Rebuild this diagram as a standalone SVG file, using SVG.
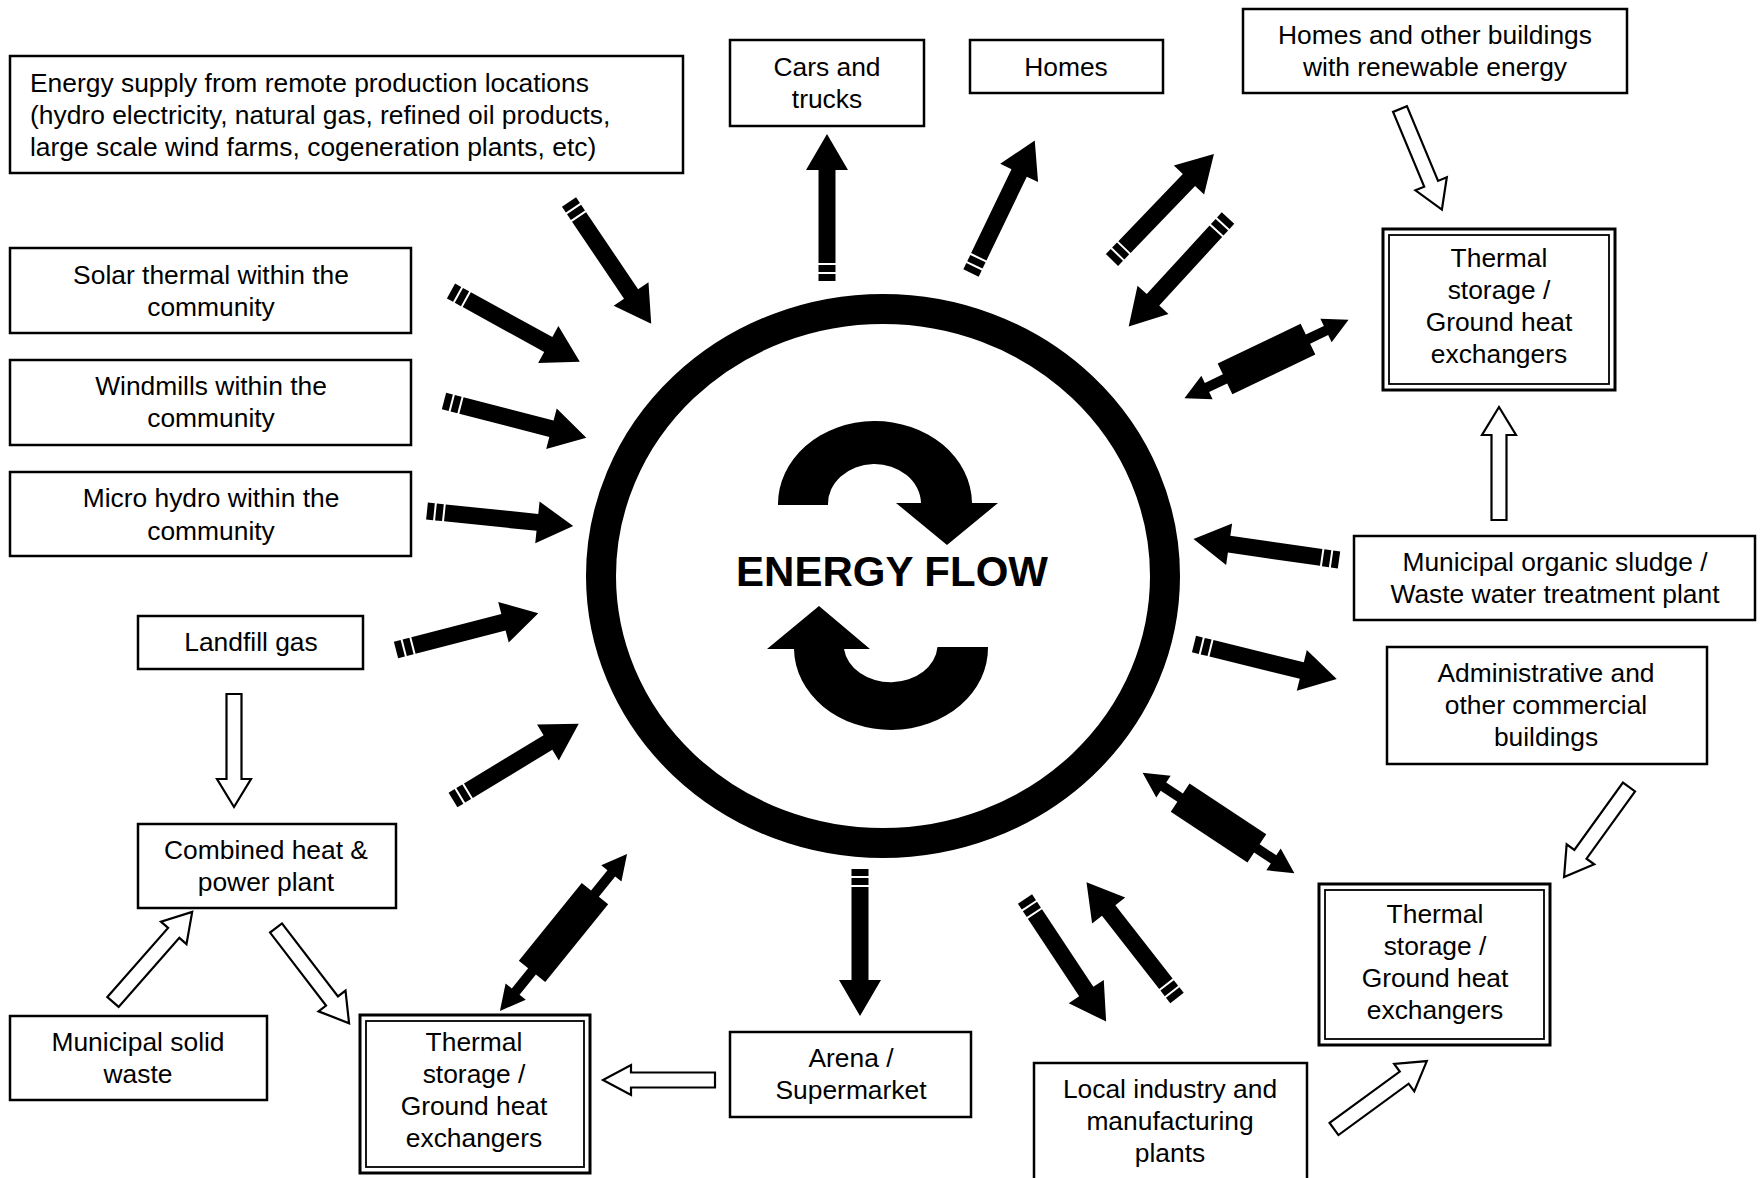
<svg xmlns="http://www.w3.org/2000/svg" xmlns:xlink="http://www.w3.org/1999/xlink" width="1762" height="1178" viewBox="0 0 1762 1178">
<style>
.box{fill:#fff;stroke:#000;stroke-width:2.5}
.dbo{fill:#fff;stroke:#000;stroke-width:3}
.dbi{fill:none;stroke:#000;stroke-width:1.8}
.t{font-family:"Liberation Sans",Arial,sans-serif;font-size:26.4px;fill:#000;text-anchor:middle}
.tl{font-family:"Liberation Sans",Arial,sans-serif;font-size:26.4px;fill:#000}
.blk{fill:#000}
.open{fill:#fff;stroke:#000;stroke-width:2.2;stroke-linejoin:miter}
</style>
<defs>
<g id="ba" class="blk">
<path d="M18,-8.5 H111 V-21 L147,0 L111,21 V8.5 H18 Z"/>
<rect x="0" y="-8.5" width="7" height="17"/>
<rect x="9" y="-8.5" width="7" height="17"/>
</g>
</defs>
<rect width="1762" height="1178" fill="#fff"/>

<g id="hub">
<ellipse cx="883" cy="576" rx="282" ry="267" fill="none" stroke="#000" stroke-width="30"/>
<path class="blk" d="M778,505 A97,83 0 0 1 972,503 L998,503 L947,545 L896,503 L921,503 A46.5,40 0 0 0 828,505 Z"/>
<path class="blk" d="M988,647 A97,82 0 0 1 794,649 L767,649 L819,606 L870,649 L844,649 A47,38 0 0 0 937.5,647 Z"/>
<text x="892" y="586" style="font-family:'Liberation Sans',Arial,sans-serif;font-size:42px;font-weight:bold;text-anchor:middle">ENERGY FLOW</text>
</g>

<g id="n-remote">
<rect class="box" x="10" y="56" width="673" height="117"/>
<text class="tl" x="30" y="92">Energy supply from remote production locations</text>
<text class="tl" x="30" y="124">(hydro electricity, natural gas, refined oil products,</text>
<text class="tl" x="30" y="156">large scale wind farms, cogeneration plants, etc)</text>
</g>
<g id="n-cars">
<rect class="box" x="730" y="40" width="194" height="86"/>
<text class="t" x="827" y="76">Cars and</text>
<text class="t" x="827" y="108">trucks</text>
</g>
<g id="n-homes">
<rect class="box" x="970" y="40" width="193" height="53"/>
<text class="t" x="1066" y="76">Homes</text>
</g>
<g id="n-homes-re">
<rect class="box" x="1243" y="9" width="384" height="84"/>
<text class="t" x="1435" y="44">Homes and other buildings</text>
<text class="t" x="1435" y="76">with renewable energy</text>
</g>
<g id="n-thermal-tr">
<rect class="dbo" x="1383" y="229" width="232" height="161"/>
<rect class="dbi" x="1389" y="235" width="220" height="149"/>
<text class="t" x="1499" y="267">Thermal</text>
<text class="t" x="1499" y="299">storage /</text>
<text class="t" x="1499" y="331">Ground heat</text>
<text class="t" x="1499" y="363">exchangers</text>
</g>
<g id="n-solar">
<rect class="box" x="10" y="248" width="401" height="85"/>
<text class="t" x="211" y="284">Solar thermal within the</text>
<text class="t" x="211" y="316">community</text>
</g>
<g id="n-wind">
<rect class="box" x="10" y="360" width="401" height="85"/>
<text class="t" x="211" y="395">Windmills within the</text>
<text class="t" x="211" y="427">community</text>
</g>
<g id="n-hydro">
<rect class="box" x="10" y="472" width="401" height="84"/>
<text class="t" x="211" y="507">Micro hydro within the</text>
<text class="t" x="211" y="540">community</text>
</g>
<g id="n-landfill">
<rect class="box" x="138" y="616" width="225" height="53"/>
<text class="t" x="251" y="651">Landfill gas</text>
</g>
<g id="n-chp">
<rect class="box" x="138" y="824" width="258" height="84"/>
<text class="t" x="266" y="859">Combined heat &amp;</text>
<text class="t" x="266" y="891">power plant</text>
</g>
<g id="n-msw">
<rect class="box" x="10" y="1016" width="257" height="84"/>
<text class="t" x="138" y="1051">Municipal solid</text>
<text class="t" x="138" y="1083">waste</text>
</g>
<g id="n-thermal-bl">
<rect class="dbo" x="360" y="1015" width="230" height="158"/>
<rect class="dbi" x="366" y="1021" width="218" height="146"/>
<text class="t" x="474" y="1051">Thermal</text>
<text class="t" x="474" y="1083">storage /</text>
<text class="t" x="474" y="1115">Ground heat</text>
<text class="t" x="474" y="1147">exchangers</text>
</g>
<g id="n-arena">
<rect class="box" x="730" y="1032" width="241" height="85"/>
<text class="t" x="851" y="1067">Arena /</text>
<text class="t" x="851" y="1099">Supermarket</text>
</g>
<g id="n-industry">
<rect class="box" x="1034" y="1063" width="273" height="120"/>
<text class="t" x="1170" y="1098">Local industry and</text>
<text class="t" x="1170" y="1130">manufacturing</text>
<text class="t" x="1170" y="1162">plants</text>
</g>
<g id="n-thermal-br">
<rect class="dbo" x="1319" y="884" width="231" height="161"/>
<rect class="dbi" x="1325" y="890" width="219" height="149"/>
<text class="t" x="1435" y="923">Thermal</text>
<text class="t" x="1435" y="955">storage /</text>
<text class="t" x="1435" y="987">Ground heat</text>
<text class="t" x="1435" y="1019">exchangers</text>
</g>
<g id="n-sludge">
<rect class="box" x="1354" y="536" width="401" height="84"/>
<text class="t" x="1555" y="571">Municipal organic sludge /</text>
<text class="t" x="1555" y="603">Waste water treatment plant</text>
</g>
<g id="n-admin">
<rect class="box" x="1387" y="647" width="320" height="117"/>
<text class="t" x="1546" y="682">Administrative and</text>
<text class="t" x="1546" y="714">other commercial</text>
<text class="t" x="1546" y="746">buildings</text>
</g>

<g id="connectors">
<use xlink:href="#ba" transform="translate(569,202) rotate(56)"/>
<use xlink:href="#ba" transform="translate(451,291) rotate(28.8)"/>
<use xlink:href="#ba" transform="translate(444,401) rotate(14.5)"/>
<use xlink:href="#ba" transform="translate(427,511) rotate(5.9)"/>
<use xlink:href="#ba" transform="translate(396,650) rotate(-14.5)"/>
<use xlink:href="#ba" transform="translate(453,800) rotate(-31.2)"/>
<use xlink:href="#ba" transform="translate(860,869) rotate(90)"/>
<use xlink:href="#ba" transform="translate(1025,899) rotate(56.5)"/>
<use xlink:href="#ba" transform="translate(1177,998) rotate(-128)"/>
<use xlink:href="#ba" transform="translate(1194,644) rotate(13.8)"/>
<use xlink:href="#ba" transform="translate(1339,560) rotate(188.2)"/>
<use xlink:href="#ba" transform="translate(1228,218) rotate(132.5)"/>
<use xlink:href="#ba" transform="translate(1112,260) rotate(-46.1)"/>
<use xlink:href="#ba" transform="translate(971,273) rotate(-64.3)"/>
<use xlink:href="#ba" transform="translate(827,281) rotate(-90)"/>

<path class="blk" transform="translate(563.5,932.5) rotate(-51)" d="M-101,0 L-76,-13 L-76,-5 L-50,-5 L-50,-17 L50,-17 L50,-5 L76,-5 L76,-13 L101,0 L76,13 L76,5 L50,5 L50,17 L-50,17 L-50,5 L-76,5 L-76,13 Z"/>
<path class="blk" transform="translate(1218.5,823) rotate(33.5)" d="M-91,0 L-66,-13 L-66,-5 L-46,-5 L-46,-17 L46,-17 L46,-5 L66,-5 L66,-13 L91,0 L66,13 L66,5 L46,5 L46,17 L-46,17 L-46,5 L-66,5 L-66,13 Z"/>
<path class="blk" transform="translate(1266.5,359) rotate(-25.6)" d="M-91,0 L-66,-13 L-66,-5 L-46,-5 L-46,-17 L46,-17 L46,-5 L66,-5 L66,-13 L91,0 L66,13 L66,5 L46,5 L46,17 L-46,17 L-46,5 L-66,5 L-66,13 Z"/>

<path class="open" transform="translate(1400,109) rotate(67.4)" d="M0,-7.5 H81 V-17 L109,0 L81,17 V7.5 H0 Z"/>
<path class="open" transform="translate(1499,520) rotate(-90)" d="M0,-7.5 H85 V-17 L113,0 L85,17 V7.5 H0 Z"/>
<path class="open" transform="translate(1629,787) rotate(125.8)" d="M0,-7.5 H83 V-17 L111,0 L83,17 V7.5 H0 Z"/>
<path class="open" transform="translate(1334,1129) rotate(-36.2)" d="M0,-7.5 H87 V-17 L115,0 L87,17 V7.5 H0 Z"/>
<path class="open" transform="translate(715,1080) rotate(180)" d="M0,-7.5 H84 V-15 L112,0 L84,15 V7.5 H0 Z"/>
<path class="open" transform="translate(234,694) rotate(90)" d="M0,-7.5 H85 V-17 L113,0 L85,17 V7.5 H0 Z"/>
<path class="open" transform="translate(113,1002) rotate(-48.7)" d="M0,-7.5 H92 V-17 L120,0 L92,17 V7.5 H0 Z"/>
<path class="open" transform="translate(276,928) rotate(52.5)" d="M0,-7.5 H92 V-17 L120,0 L92,17 V7.5 H0 Z"/>
</g>
</svg>
